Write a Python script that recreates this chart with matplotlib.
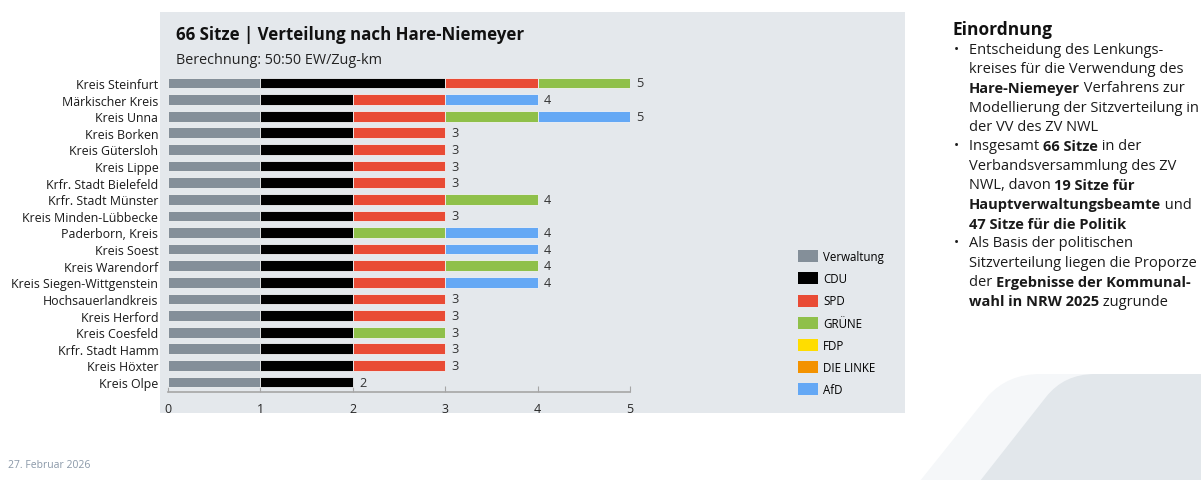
import matplotlib
matplotlib.use('Agg')
import matplotlib.pyplot as plt
from matplotlib.patches import Rectangle, PathPatch, Patch
from matplotlib.path import Path
import numpy as np

plt.rcParams['font.family'] = ['Open Sans', 'DejaVu Sans']

kreise = ['Kreis Steinfurt', 'Märkischer Kreis', 'Kreis Unna', 'Kreis Borken', 'Kreis Gütersloh',
          'Kreis Lippe', 'Krfr. Stadt Bielefeld', 'Krfr. Stadt Münster', 'Kreis Minden-Lübbecke',
          'Paderborn, Kreis', 'Kreis Soest', 'Kreis Warendorf', 'Kreis Siegen-Wittgenstein',
          'Hochsauerlandkreis', 'Kreis Herford', 'Kreis Coesfeld', 'Krfr. Stadt Hamm',
          'Kreis Höxter', 'Kreis Olpe']
parteien = ['Verwaltung', 'CDU', 'SPD', 'GRÜNE', 'FDP', 'DIE LINKE', 'AfD']
farben = ['#848f99', '#000000', '#e94b35', '#8fc04a', '#ffdd00', '#f39200', '#64a8f5']

verwaltung = [1, 1, 1, 1, 1, 1, 1, 1, 1, 1, 1, 1, 1, 1, 1, 1, 1, 1, 1]
cdu        = [2, 1, 1, 1, 1, 1, 1, 1, 1, 1, 1, 1, 1, 1, 1, 1, 1, 1, 1]
spd        = [1, 1, 1, 1, 1, 1, 1, 1, 1, 0, 1, 1, 1, 1, 1, 0, 1, 1, 0]
gruene     = [1, 0, 1, 0, 0, 0, 0, 1, 0, 1, 0, 1, 0, 0, 0, 1, 0, 0, 0]
fdp        = [0, 0, 0, 0, 0, 0, 0, 0, 0, 0, 0, 0, 0, 0, 0, 0, 0, 0, 0]
linke      = [0, 0, 0, 0, 0, 0, 0, 0, 0, 0, 0, 0, 0, 0, 0, 0, 0, 0, 0]
afd        = [0, 1, 1, 0, 0, 0, 0, 0, 0, 1, 1, 0, 1, 0, 0, 0, 0, 0, 0]

W, H = 1201, 481
fig = plt.figure(figsize=(W / 100, H / 100), dpi=100)

def fx(x):
    return x / W

def fy(y):
    return 1 - y / H

# deco shapes bottom right
def form(pts, farbe):
    codes = [Path.MOVETO, Path.LINETO, Path.CURVE3, Path.CURVE3, Path.LINETO, Path.LINETO, Path.CLOSEPOLY]
    verts = [(fx(x), fy(y)) for x, y in pts]
    fig.patches.append(PathPatch(Path(verts, codes), transform=fig.transFigure,
                                 facecolor=farbe, edgecolor='none', zorder=-2))

form([(920, 482), (988, 397), (1008, 375), (1040, 375), (1202, 375), (1202, 482), (920, 482)], '#f5f7f9')
form([(980, 482), (1046, 398), (1064, 375), (1095, 375), (1202, 375), (1202, 482), (980, 482)], '#e2e7eb')

# chart panel
fig.patches.append(Rectangle((fx(160), fy(414)), 745 / W, 401 / H, transform=fig.transFigure,
                             facecolor='#e4e8ec', edgecolor='none', zorder=-2))

ax = fig.add_axes([fx(168), fy(393), 462 / W, 319 / H])
ax.set_facecolor('none')

y = np.arange(len(kreise))
werte = np.array([verwaltung, cdu, spd, gruene, fdp, linke, afd], dtype=float)
links = np.zeros(len(kreise))
for vals, farbe in zip(werte, farben):
    m = vals > 0
    ax.barh(y[m], vals[m], left=links[m], height=0.64, color=farbe,
            edgecolor='#f0f2f4', linewidth=0.6, zorder=3)
    links += vals

for yi, tot in zip(y, links):
    ax.text(tot + 0.07, yi, str(int(tot)), va='center', ha='left', fontsize=9.2,
            color='#333333', weight='medium')

ax.set_xlim(0, 5)
ax.set_ylim(18.6, -0.6)
ax.set_yticks(y)
ax.set_yticklabels(kreise, fontsize=8.9, color='#1a1a1a')
ax.set_xticks([0, 1, 2, 3, 4, 5])
ax.tick_params(axis='y', length=0, pad=7)
ax.tick_params(axis='x', direction='in', length=4, color='#a6a6a6', labelsize=9,
               labelcolor='#262626', pad=7)
for s in ['left', 'top', 'right']:
    ax.spines[s].set_visible(False)
ax.spines['bottom'].set_color('#a6a6a6')
ax.spines['bottom'].set_linewidth(1.2)

fig.text(fx(176), fy(35), '66 Sitze | Verteilung nach Hare-Niemeyer', fontsize=12.2,
         weight='bold', va='center', color='#111111')
fig.text(fx(176), fy(61), 'Berechnung: 50:50 EW/Zug-km', fontsize=10.4, va='center', color='#222222')

griffe = [Patch(facecolor=f, edgecolor='none') for f in farben]
fig.legend(griffe, parteien, loc='upper left', bbox_to_anchor=(fx(798), fy(251)),
           frameon=False, fontsize=8.3, handlelength=1.75, handleheight=1.22,
           handletextpad=0.45, labelspacing=0.8, borderpad=0, borderaxespad=0)

# right side text
renderer = fig.canvas.get_renderer()

def zeile(x, yy, teile, size=10.5):
    for txt, fett in teile:
        t = fig.text(fx(x), fy(yy), txt, fontsize=size, weight='bold' if fett else 'normal',
                     va='center', ha='left', color='#1a1a1a')
        x += t.get_window_extent(renderer).width

fig.text(fx(952), fy(30), 'Einordnung', fontsize=12.5, weight='bold', va='center', color='#111111')

zeilen = [
    [('Entscheidung des Lenkungs-', False)],
    [('kreises für die Verwendung des', False)],
    [('Hare-Niemeyer', True), (' Verfahrens zur', False)],
    [('Modellierung der Sitzverteilung in', False)],
    [('der VV des ZV NWL', False)],
    [('Insgesamt ', False), ('66 Sitze', True), (' in der', False)],
    [('Verbandsversammlung des ZV', False)],
    [('NWL, davon ', False), ('19 Sitze für', True)],
    [('Hauptverwaltungsbeamte', True), (' und', False)],
    [('47 Sitze für die Politik', True)],
    [('Als Basis der politischen', False)],
    [('Sitzverteilung liegen die Proporze', False)],
    [('der ', False), ('Ergebnisse der Kommunal-', True)],
    [('wahl in NRW 2025', True), (' zugrunde', False)],
]
bullets = [0, 5, 10]
for i, teile in enumerate(zeilen):
    yy = 50 + i * 19.4
    if i in bullets:
        fig.text(fx(954), fy(yy), '•', fontsize=10, va='center', color='#1a1a1a')
    zeile(969, yy, teile)

fig.text(fx(8), fy(466), '27. Februar 2026', fontsize=7.5, va='center', color='#8a98a8')

fig.savefig('out.png', dpi=100)
